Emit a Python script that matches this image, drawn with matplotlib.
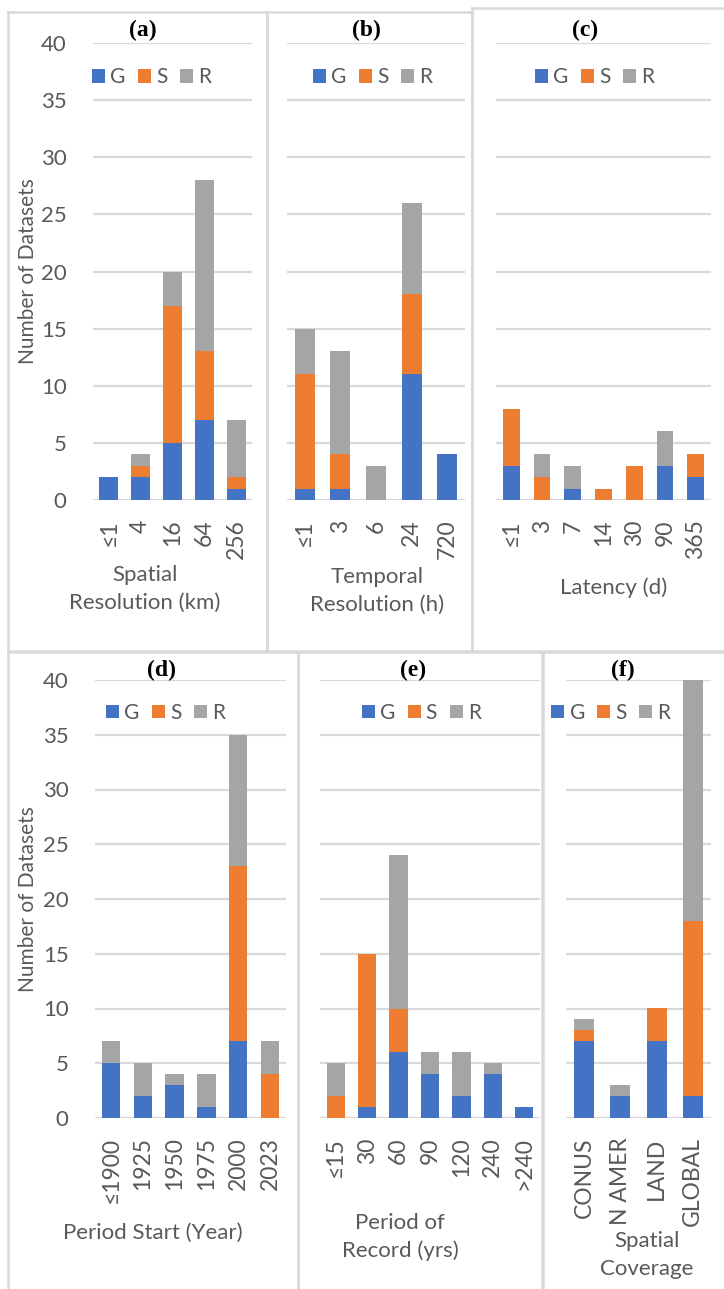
import matplotlib
matplotlib.use("Agg")
import matplotlib.pyplot as plt
from matplotlib.lines import Line2D
import numpy as np

# ---- data ----
cats_a = ["≤1", "4", "16", "64", "256"]
g_a = [2, 2, 5, 7, 1]
s_a = [0, 1, 12, 6, 1]
r_a = [0, 1, 3, 15, 5]

cats_b = ["≤1", "3", "6", "24", "720"]
g_b = [1, 1, 0, 11, 4]
s_b = [10, 3, 0, 7, 0]
r_b = [4, 9, 3, 8, 0]

cats_c = ["≤1", "3", "7", "14", "30", "90", "365"]
g_c = [3, 0, 1, 0, 0, 3, 2]
s_c = [5, 2, 0, 1, 3, 0, 2]
r_c = [0, 2, 2, 0, 0, 3, 0]

cats_d = ["≤1900", "1925", "1950", "1975", "2000", "2023"]
g_d = [5, 2, 3, 1, 7, 0]
s_d = [0, 0, 0, 0, 16, 4]
r_d = [2, 3, 1, 3, 12, 3]

cats_e = ["≤15", "30", "60", "90", "120", "240", ">240"]
g_e = [0, 1, 6, 4, 2, 4, 1]
s_e = [2, 14, 4, 0, 0, 0, 0]
r_e = [3, 0, 14, 2, 4, 1, 0]

cats_f = ["CONUS", "N AMER", "LAND", "GLOBAL"]
g_f = [7, 2, 7, 2]
s_f = [1, 0, 3, 16]
r_f = [1, 1, 0, 22]

series_names = ["G", "S", "R"]
titles = ["(a)", "(b)", "(c)", "(d)", "(e)", "(f)"]
xlabels = ["Spatial\nResolution (km)", "Temporal\nResolution (h)", "Latency (d)",
           "Period Start (Year)", "Period of\nRecord (yrs)", "Spatial\nCoverage"]
ylabel = "Number of Datasets"
yticks = [0, 5, 10, 15, 20, 25, 30, 35, 40]

colors = ["#4472C4", "#ED7D31", "#A5A5A5"]
grid_c = "#D9D9D9"
txt_c = "#595959"

plt.rcParams['font.family'] = ['Lato', 'DejaVu Sans']

W, H = 724, 1289
fig = plt.figure(figsize=(W / 100, H / 100), dpi=100)


def box(l, t, r, b):
    return [l / W, 1 - b / H, (r - l) / W, (b - t) / H]


def ftext(x, y, s, **kw):
    fig.text(x / W, 1 - y / H, s, **kw)


# panel borders (pixels)
borders = [(8, 12, 267, 651), (267, 12, 472, 651), (472, 8, 730, 651),
           (8, 652, 298, 1295), (298, 652, 542, 1295), (543, 652, 730, 1295)]
for l, t, r, b in borders:
    xs = np.array([l, r, r, l, l]) / W
    ys = 1 - np.array([t, t, b, b, t]) / H
    fig.add_artist(Line2D(xs, ys, color=grid_c, lw=1.8))

# panel specs: data, axes box, bar width, legend x, title pos, xlabel pos, ylabel x
panels = [
    (cats_a, g_a, s_a, r_a, (93, 43, 252, 500), 0.6, 0.37, (143, 30), (145, 589), 28),
    (cats_b, g_b, s_b, r_b, (287, 43, 465, 500), 0.56, 0.48, (366, 30), (377, 591), None),
    (cats_c, g_c, s_c, r_c, (496, 43, 711, 500), 0.54, 0.46, (585, 30), (614, 588), None),
    (cats_d, g_d, s_d, r_d, (95, 680, 286, 1118), 0.58, 0.37, (162, 670), (153, 1233), 28),
    (cats_e, g_e, s_e, r_e, (320, 680, 540, 1118), 0.58, 0.46, (413, 670), (400, 1237), None),
    (cats_f, g_f, s_f, r_f, (566, 680, 711, 1118), 0.55, 0.31, (623, 670), (647, 1255), None),
]

for i, (cats, g, s, r, bx, bw, lx, tpos, xlpos, ylx) in enumerate(panels):
    ax = fig.add_axes(box(*bx))
    x = np.arange(len(cats))
    g = np.array(g); s = np.array(s); r = np.array(r)
    h1 = ax.bar(x, g, bw, color=colors[0], zorder=3)
    h2 = ax.bar(x, s, bw, bottom=g, color=colors[1], zorder=3)
    h3 = ax.bar(x, r, bw, bottom=g + s, color=colors[2], zorder=3)
    ax.set_xlim(-0.5, len(cats) - 0.5)
    ax.set_ylim(0, 40)
    ax.set_yticks(yticks)
    for yv in yticks:
        ax.axhline(yv, color=grid_c, lw=1.6, zorder=1)
    for sp in ax.spines.values():
        sp.set_visible(False)
    ax.set_xticks(x)
    ax.set_xticklabels(cats, rotation=90, fontsize=16.5, color=txt_c)
    ax.tick_params(axis='x', length=0, pad=14)
    ax.tick_params(axis='y', length=0, pad=19, labelsize=16, labelcolor=txt_c)
    if ylx is None:
        ax.set_yticklabels([])
    else:
        ax.set_ylabel(ylabel, fontsize=15, color=txt_c, va='center')
        w = bx[2] - bx[0]
        ax.yaxis.set_label_coords((ylx - bx[0]) / w, 0.5)
    ax.legend([h1, h2, h3], series_names, loc='center', bbox_to_anchor=(lx, 0.925),
              ncol=3, frameon=False, handlelength=0.62, handleheight=0.62,
              handletextpad=0.25, columnspacing=0.6, fontsize=15, labelcolor=txt_c)
    ftext(tpos[0], tpos[1], titles[i], ha='center', va='center', fontsize=17,
          fontweight='bold', family='Liberation Serif')
    ftext(xlpos[0], xlpos[1], xlabels[i], ha='center', va='center', fontsize=16,
          color=txt_c, linespacing=1.5)

fig.savefig("out.png", dpi=100)
